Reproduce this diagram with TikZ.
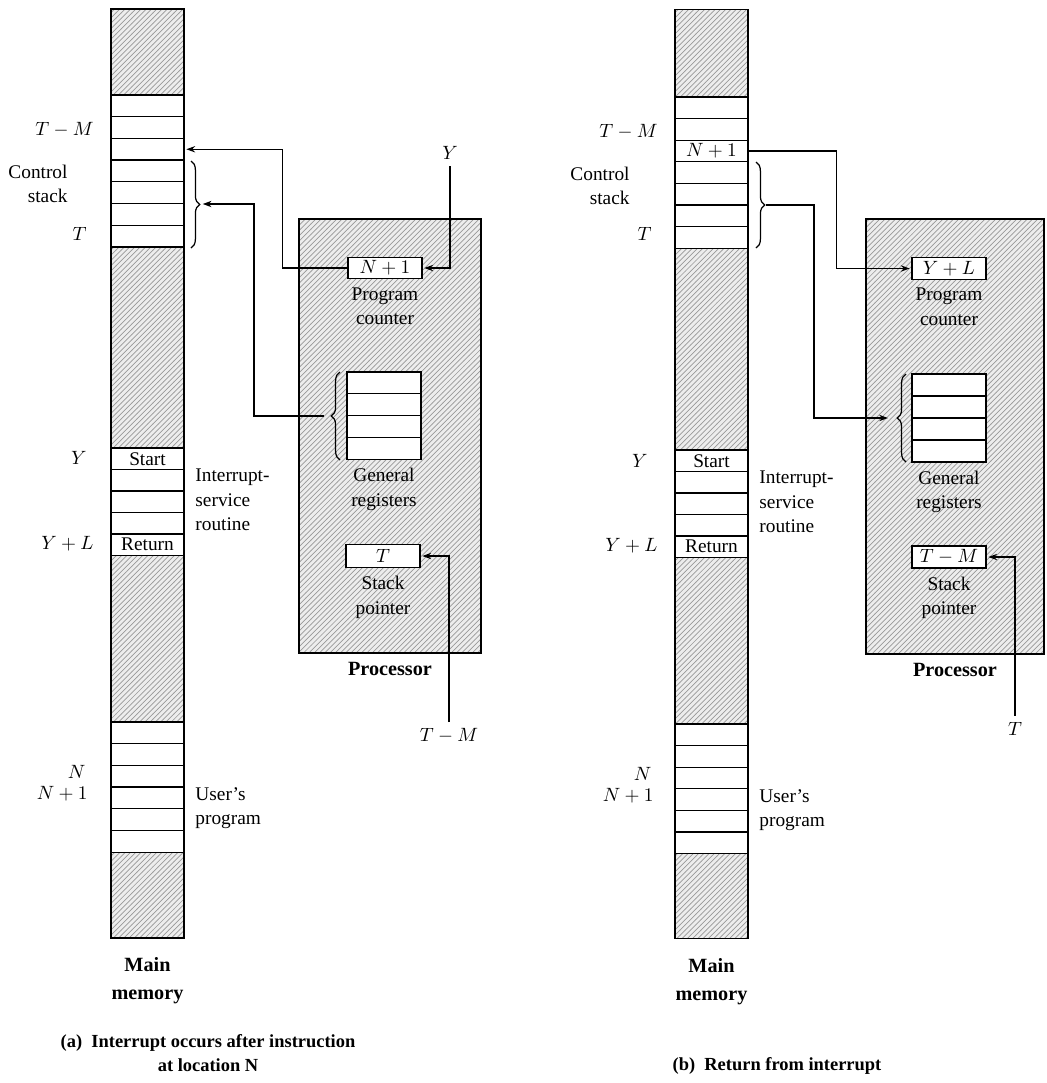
\documentclass[tikz,border=0pt]{standalone}
\usepackage{fontspec}
\setmainfont{Liberation Serif}
\usetikzlibrary{positioning, arrows.meta, calc, patterns, decorations.pathreplacing}

\begin{document}
\begin{tikzpicture}[
    x=0.02cm, y=-0.02cm,    % 1 unit = 1 pixel of the page, y downwards
    line width=0.7pt,
    >={Stealth[length=5pt, width=3.6pt]},
    font=\fontsize{11}{14}\selectfont,
    hatch/.style={draw, inner sep=0pt, preaction={fill=gray!14},
        preaction={pattern=north east lines, pattern color=gray!80}},
    cell/.style={draw, fill=white, minimum width=1.46cm, minimum height=0.434cm, inner sep=0pt},
    reg/.style={draw, fill=white, minimum width=1.48cm, minimum height=0.43cm, inner sep=0pt},
    arr/.style={->, line width=0.7pt, shorten >=1pt},
    curly/.style={decorate, decoration={brace, amplitude=5pt}},
    boldlabel/.style={font=\fontsize{11.5}{16}\selectfont\bfseries, align=center},
    caption/.style={font=\fontsize{10.5}{14}\selectfont\bfseries, align=center}
]
    \useasboundingbox (0,0) rectangle (1046,1083);

    % ===== (a) Interrupt occurs =====
    % --- main memory ---
    \node [hatch, minimum width=1.46cm, minimum height=18.58cm] (memA) at (147.5,473.5) {};
    \foreach \i in {1,...,7}
        \node [cell] (csA\i) at (147.5, {95+(\i-0.5)*21.7}) {};
    \foreach \i/\t in {1/Start, 2/, 3/, 4/, 5/Return}
        \node [cell] (isA\i) at (147.5, {448+(\i-0.5)*21.5}) {\t};
    \foreach \i in {1,...,6}
        \node [cell] (upA\i) at (147.5, {722+(\i-0.5)*21.7}) {};
    \node [boldlabel, below=0.25cm of memA] (mmA) {Main\\memory};

    % labels left of memory
    \node [anchor=east] (tmlA) at (100,130) {$T-M$};
    \node [anchor=east, align=right] (ctlA) at (74,184) {Control\\stack};
    \node [anchor=east] (tlA) at (93,234) {$T$};
    \node [anchor=east] (ylA) at (93,458) {$Y$};
    \node [anchor=east] (ylpA) at (100,544) {$Y+L$};
    \node [anchor=east] (nlA) at (92,772) {$N$};
    \node [anchor=east] (n1lA) at (94,794) {$N+1$};

    % labels right of memory
    \node [anchor=west, align=left] (isrA) at (189,500) {Interrupt-\\service\\routine};
    \node [anchor=west, align=left] (usrA) at (189,808) {User's\\program};

    \draw [curly] (191,161) -- (191,248);
    \coordinate (cbA) at (201,204);

    % --- processor ---
    \node [hatch, minimum width=3.64cm, minimum height=8.68cm] (procA) at (390,436) {};
    \node [boldlabel, below=1pt of procA] (prA) {Processor};

    \node [reg] (pcA) at (385,268) {$N+1$};
    \node [align=center, below=1pt of pcA] (pctA) {Program\\counter};

    \foreach \i in {1,...,4}
        \node [reg, minimum height=0.436cm] (grA\i) at (384, {372+(\i-0.5)*21.8}) {};
    \node [align=center, below=1pt of grA4] (grtA) {General\\registers};
    \draw [curly] (340,460) -- (340,372);
    \coordinate (gbA) at (329,416);

    \node [reg, minimum height=0.46cm] (spA) at (383,556) {$T$};
    \node [align=center, below=1pt of spA] (sptA) {Stack\\pointer};

    % --- connections ---
    \node (yA) at (450,153) {$Y$};
    \node (tmA) at (449,736) {$T-M$};
    \draw [arr] (pcA.west) -- ++(-65,0) |- (csA3.east);
    \draw [arr, shorten <=3pt] (gbA) -- ++(-75,0) |- (cbA);
    \draw [arr] (yA) |- (pcA.east);
    \draw [arr] (tmA) |- (spA.east);

    \node [caption] (capA) at (208,1053) {(a)\enspace Interrupt occurs after instruction\\at location N};

    % ===== (b) Return from interrupt =====
    \begin{scope}[shift={(566,0)}]
    % --- main memory ---
    \node [hatch, minimum width=1.46cm, minimum height=18.58cm] (memB) at (145.5,474) {};
    \foreach \i/\t in {1/, 2/, 3/$N+1$, 4/, 5/, 6/, 7/}
        \node [cell] (csB\i) at (145.5, {97+(\i-0.5)*21.6}) {\t};
    \foreach \i/\t in {1/Start, 2/, 3/, 4/, 5/Return}
        \node [cell] (isB\i) at (145.5, {450+(\i-0.5)*21.5}) {\t};
    \foreach \i in {1,...,6}
        \node [cell] (upB\i) at (145.5, {724+(\i-0.5)*21.6}) {};
    \node [boldlabel, below=0.25cm of memB] (mmB) {Main\\memory};

    % labels left of memory
    \node [anchor=east] (tmlB) at (98,132) {$T-M$};
    \node [anchor=east, align=right] (ctlB) at (70,186) {Control\\stack};
    \node [anchor=east] (tlB) at (92,234) {$T$};
    \node [anchor=east] (ylB) at (88,461) {$Y$};
    \node [anchor=east] (ylpB) at (98,546) {$Y+L$};
    \node [anchor=east] (nlB) at (92,774) {$N$};
    \node [anchor=east] (n1lB) at (94,796) {$N+1$};

    % labels right of memory
    \node [anchor=west, align=left] (isrB) at (187,502) {Interrupt-\\service\\routine};
    \node [anchor=west, align=left] (usrB) at (187,810) {User's\\program};

    \draw [curly] (190,162) -- (190,248);
    \coordinate (cbB) at (200,205);

    % --- processor ---
    \node [hatch, minimum width=3.56cm, minimum height=8.7cm] (procB) at (389,436.5) {};
    \node [boldlabel, below=1pt of procB] (prB) {Processor};

    \node [reg] (pcB) at (383,268.5) {$Y+L$};
    \node [align=center, below=1pt of pcB] (pctB) {Program\\counter};

    \foreach \i in {1,...,4}
        \node [reg, minimum height=0.44cm] (grB\i) at (383, {374+(\i-0.5)*22}) {};
    \node [align=center, below=1pt of grB4] (grtB) {General\\registers};
    \draw [curly] (340,462) -- (340,374);
    \coordinate (gbB) at (329,418);

    \node [reg, minimum height=0.44cm] (spB) at (383,557) {$T-M$};
    \node [align=center, below=1pt of spB] (sptB) {Stack\\pointer};

    % --- connections ---
    \node (tB) at (449,729) {$T$};
    \draw [arr] (csB3.east) -- ++(88,0) |- (pcB.west);
    \draw [arr, shorten >=4pt] (cbB) -- ++(48,0) |- (gbB);
    \draw [arr] (tB) |- (spB.east);

    \node [caption] (capB) at (211,1066) {(b)\enspace Return from interrupt};
    \end{scope}

\end{tikzpicture}
\end{document}
